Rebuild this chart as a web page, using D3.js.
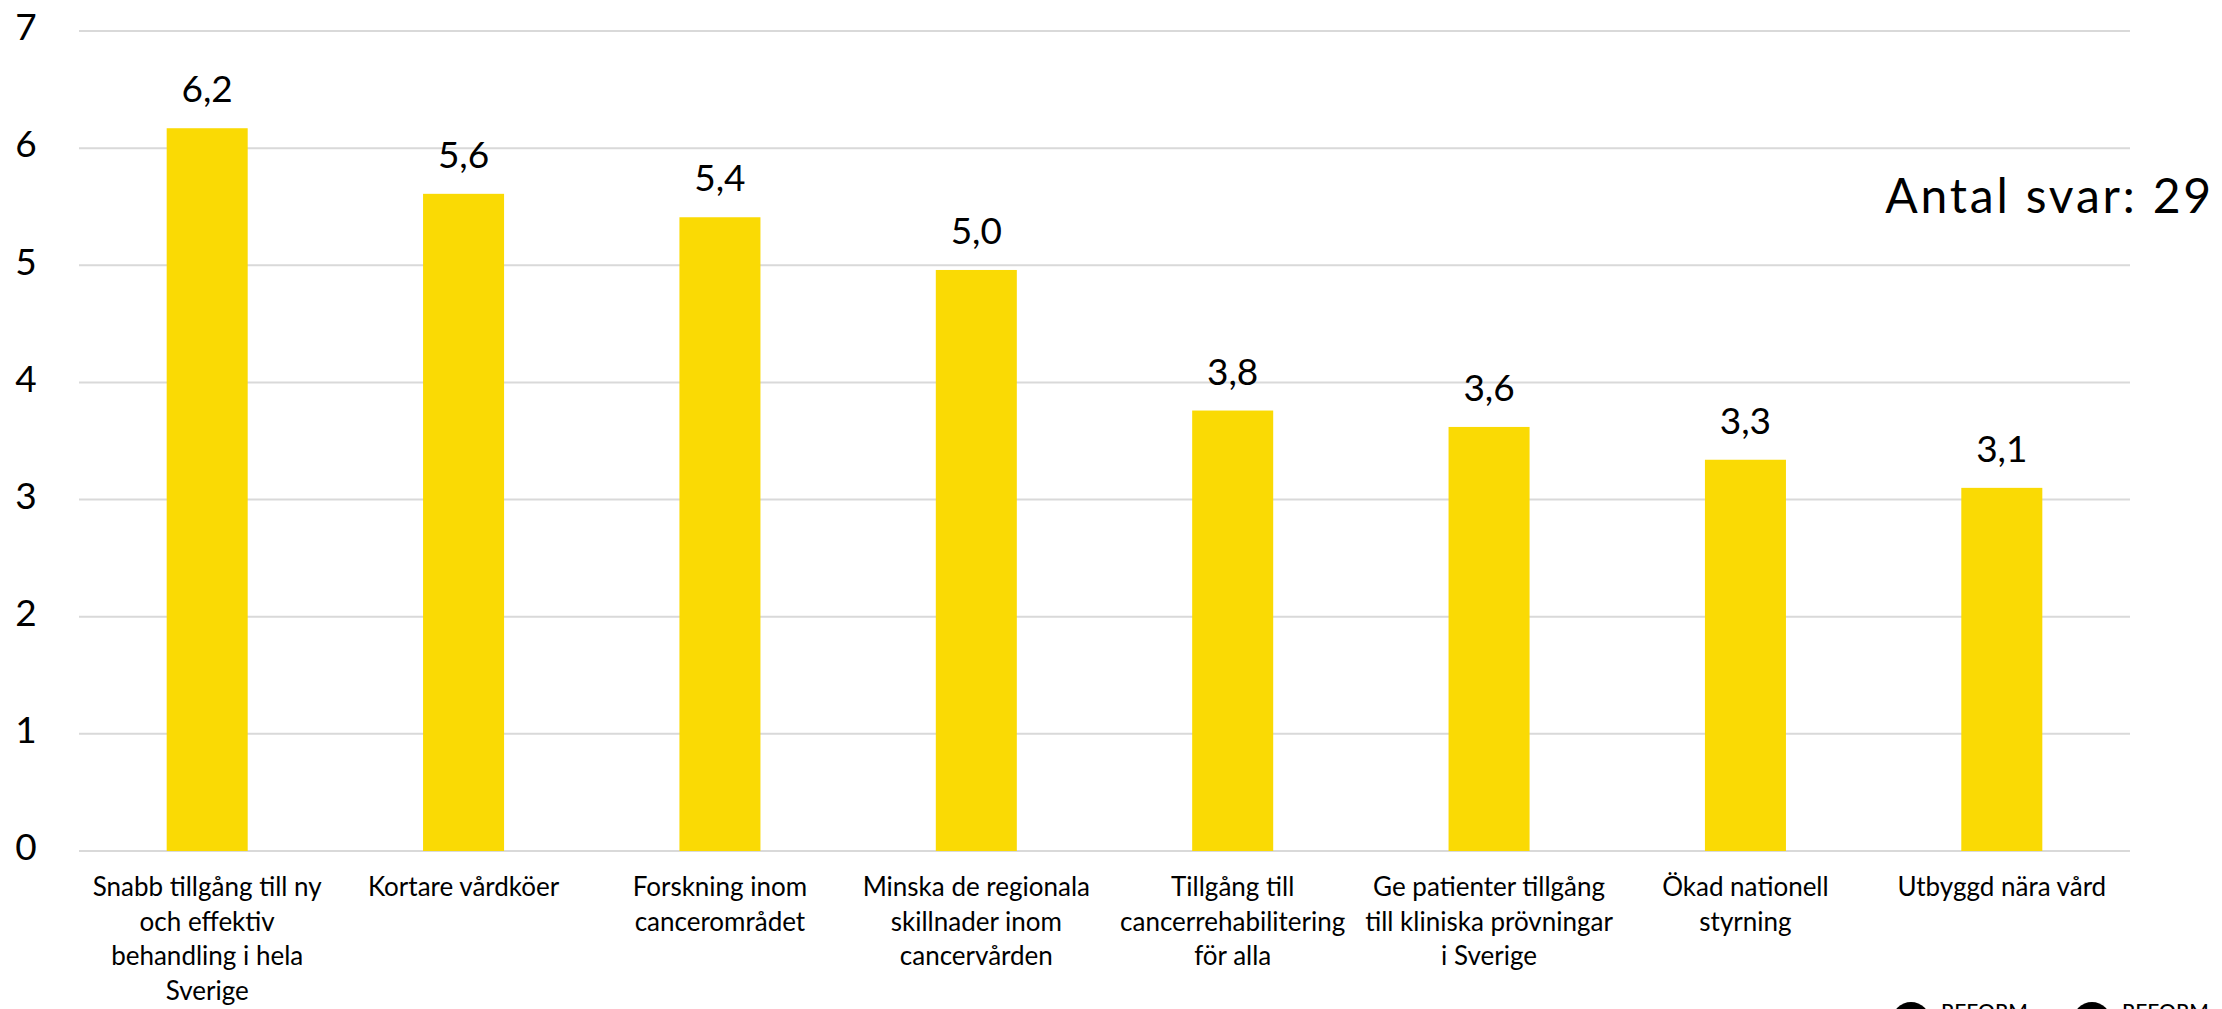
<!DOCTYPE html>
<html>
<head>
<meta charset="utf-8">
<script src="https://cdn.jsdelivr.net/npm/d3@7/dist/d3.min.js"></script>
<style>
  html, body { margin: 0; padding: 0; background: #ffffff; overflow: hidden; }
  svg { display: block; }
  text { font-family: Lato, "Noto Sans", sans-serif; fill: #000; }
</style>
</head>
<body>
<svg id="chart" width="2222" height="1009"></svg>
<script>
// ---- data ----
const categories = [
  "Snabb tillgång till ny\noch effektiv\nbehandling i hela\nSverige",
  "Kortare vårdköer",
  "Forskning inom\ncancerområdet",
  "Minska de regionala\nskillnader inom\ncancervården",
  "Tillgång till\ncancerrehabilitering\nför alla",
  "Ge patienter tillgång\ntill kliniska prövningar\ni Sverige",
  "Ökad nationell\nstyrning",
  "Utbyggd nära vård"
];
const values = [6.17, 5.61, 5.41, 4.96, 3.76, 3.62, 3.34, 3.10];
const yTicks = [0, 1, 2, 3, 4, 5, 6, 7];
const noteText = "Antal svar: 29";
const logoTexts = ["REFORM", "REFORM"];

// ---- layout ----
const svg = d3.select("#chart");
const plotLeft = 79, plotRight = 2130, plotTop = 31, plotBottom = 851;

const x = d3.scaleBand()
  .domain(categories)
  .range([plotLeft, plotRight])
  .paddingInner(0.684)
  .paddingOuter(0.342);

const y = d3.scaleLinear().domain([0, 7]).range([plotBottom, plotTop]);

const sv = d3.formatLocale({ decimal: ",", thousands: " ", grouping: [3], currency: ["", " kr"] });
const fmt = sv.format(".1f");

// gridlines
svg.append("g")
  .selectAll("line")
  .data(yTicks)
  .join("line")
  .attr("x1", plotLeft)
  .attr("x2", plotRight)
  .attr("y1", d => y(d))
  .attr("y2", d => y(d))
  .attr("stroke", "#d9d9d9")
  .attr("stroke-width", 2);

// y tick labels
svg.append("g")
  .selectAll("text")
  .data(yTicks)
  .join("text")
  .attr("x", 26)
  .attr("y", d => y(d) - 4)
  .attr("dy", "0.36em")
  .attr("text-anchor", "middle")
  .attr("font-size", 37)
  .text(d => d);

// bars
svg.append("g")
  .selectAll("rect")
  .data(values)
  .join("rect")
  .attr("x", (d, i) => x(categories[i]))
  .attr("width", x.bandwidth())
  .attr("y", d => y(d))
  .attr("height", d => y(0) - y(d))
  .attr("fill", "#FADA04");

// value labels
svg.append("g")
  .selectAll("text")
  .data(values)
  .join("text")
  .attr("x", (d, i) => x(categories[i]) + x.bandwidth() / 2)
  .attr("y", d => y(d) - 26)
  .attr("text-anchor", "middle")
  .attr("font-size", 37)
  .text(d => fmt(d));

// category labels
const catG = svg.append("g");
categories.forEach((c, i) => {
  const cx = x(c) + x.bandwidth() / 2;
  const t = catG.append("text")
    .attr("x", cx)
    .attr("y", 896)
    .attr("text-anchor", "middle")
    .attr("font-size", 26);
  c.split("\n").forEach((line, j) => {
    t.append("tspan")
      .attr("x", cx)
      .attr("y", 896 + j * 34.5)
      .text(line);
  });
});

// note
svg.append("text")
  .attr("x", 2214)
  .attr("y", 213)
  .attr("text-anchor", "end")
  .attr("font-size", 48)
  .attr("letter-spacing", 2.8)
  .text(noteText);

// logos (partially cut at bottom, as in the reference)
const logoX = [1911, 2092];
logoTexts.forEach((t, i) => {
  svg.append("circle")
    .attr("cx", logoX[i])
    .attr("cy", 1021)
    .attr("r", 19)
    .attr("fill", "#000");
  svg.append("text")
    .attr("x", logoX[i] + 30)
    .attr("y", 1019)
    .attr("font-size", 21)
    .attr("font-weight", 500)
    .text(t);
});
</script>
</body>
</html>
